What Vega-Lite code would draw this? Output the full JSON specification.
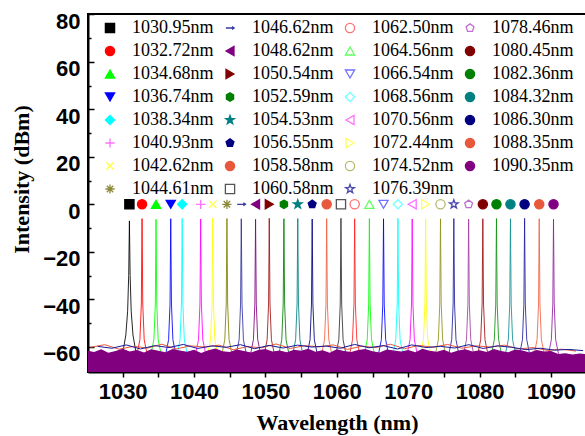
{
  "$schema": "https://vega.github.io/schema/vega-lite/v6.json",
  "width": 498,
  "height": 358,
  "autosize": {"type": "none"},
  "padding": {"left": 88, "top": 14, "right": 0, "bottom": 64},
  "background": "white",
  "config": {
    "view": {"stroke": "black", "strokeWidth": 2},
    "axis": {"grid": false, "domainColor": "black", "domainWidth": 2, "tickColor": "black", "tickWidth": 1.5, "labelColor": "black", "titleColor": "black"}
  },
  "datasets": {
    "series": [
      {"s": "1030.95nm", "wl": 1030.95}, {"s": "1032.72nm", "wl": 1032.72}, {"s": "1034.68nm", "wl": 1034.68}, {"s": "1036.74nm", "wl": 1036.74},
      {"s": "1038.34nm", "wl": 1038.34}, {"s": "1040.93nm", "wl": 1040.93}, {"s": "1042.62nm", "wl": 1042.62}, {"s": "1044.61nm", "wl": 1044.61},
      {"s": "1046.62nm", "wl": 1046.62}, {"s": "1048.62nm", "wl": 1048.62}, {"s": "1050.54nm", "wl": 1050.54}, {"s": "1052.59nm", "wl": 1052.59},
      {"s": "1054.53nm", "wl": 1054.53}, {"s": "1056.55nm", "wl": 1056.55}, {"s": "1058.58nm", "wl": 1058.58}, {"s": "1060.58nm", "wl": 1060.58},
      {"s": "1062.50nm", "wl": 1062.50}, {"s": "1064.56nm", "wl": 1064.56}, {"s": "1066.54nm", "wl": 1066.54}, {"s": "1068.56nm", "wl": 1068.56},
      {"s": "1070.56nm", "wl": 1070.56}, {"s": "1072.44nm", "wl": 1072.44}, {"s": "1074.52nm", "wl": 1074.52}, {"s": "1076.39nm", "wl": 1076.39},
      {"s": "1078.46nm", "wl": 1078.46}, {"s": "1080.45nm", "wl": 1080.45}, {"s": "1082.36nm", "wl": 1082.36}, {"s": "1084.32nm", "wl": 1084.32},
      {"s": "1086.30nm", "wl": 1086.30}, {"s": "1088.35nm", "wl": 1088.35}, {"s": "1090.35nm", "wl": 1090.35}
    ],
    "peaks": [
      {"s": "1030.95nm", "x": 1030.05, "y": -62}, {"s": "1030.95nm", "x": 1030.45, "y": -55}, {"s": "1030.95nm", "x": 1030.70, "y": -45}, {"s": "1030.95nm", "x": 1030.85, "y": -30}, {"s": "1030.95nm", "x": 1030.95, "y": -7}, {"s": "1030.95nm", "x": 1031.05, "y": -30}, {"s": "1030.95nm", "x": 1031.20, "y": -45}, {"s": "1030.95nm", "x": 1031.45, "y": -55}, {"s": "1030.95nm", "x": 1031.85, "y": -62},
      {"s": "1032.72nm", "x": 1032.02, "y": -63}, {"s": "1032.72nm", "x": 1032.42, "y": -57}, {"s": "1032.72nm", "x": 1032.62, "y": -42}, {"s": "1032.72nm", "x": 1032.72, "y": -6.0}, {"s": "1032.72nm", "x": 1032.82, "y": -42}, {"s": "1032.72nm", "x": 1033.02, "y": -57}, {"s": "1032.72nm", "x": 1033.42, "y": -63},
      {"s": "1034.68nm", "x": 1033.98, "y": -63}, {"s": "1034.68nm", "x": 1034.38, "y": -57}, {"s": "1034.68nm", "x": 1034.58, "y": -42}, {"s": "1034.68nm", "x": 1034.68, "y": -6.3}, {"s": "1034.68nm", "x": 1034.78, "y": -42}, {"s": "1034.68nm", "x": 1034.98, "y": -57}, {"s": "1034.68nm", "x": 1035.38, "y": -63},
      {"s": "1036.74nm", "x": 1036.04, "y": -63}, {"s": "1036.74nm", "x": 1036.44, "y": -57}, {"s": "1036.74nm", "x": 1036.64, "y": -42}, {"s": "1036.74nm", "x": 1036.74, "y": -6.1}, {"s": "1036.74nm", "x": 1036.84, "y": -42}, {"s": "1036.74nm", "x": 1037.04, "y": -57}, {"s": "1036.74nm", "x": 1037.44, "y": -63},
      {"s": "1038.34nm", "x": 1037.64, "y": -63}, {"s": "1038.34nm", "x": 1038.04, "y": -57}, {"s": "1038.34nm", "x": 1038.24, "y": -42}, {"s": "1038.34nm", "x": 1038.34, "y": -5.9}, {"s": "1038.34nm", "x": 1038.44, "y": -42}, {"s": "1038.34nm", "x": 1038.64, "y": -57}, {"s": "1038.34nm", "x": 1039.04, "y": -63},
      {"s": "1040.93nm", "x": 1040.23, "y": -63}, {"s": "1040.93nm", "x": 1040.63, "y": -57}, {"s": "1040.93nm", "x": 1040.83, "y": -42}, {"s": "1040.93nm", "x": 1040.93, "y": -6.2}, {"s": "1040.93nm", "x": 1041.03, "y": -42}, {"s": "1040.93nm", "x": 1041.23, "y": -57}, {"s": "1040.93nm", "x": 1041.63, "y": -63},
      {"s": "1042.62nm", "x": 1041.92, "y": -63}, {"s": "1042.62nm", "x": 1042.32, "y": -57}, {"s": "1042.62nm", "x": 1042.52, "y": -42}, {"s": "1042.62nm", "x": 1042.62, "y": -5.8}, {"s": "1042.62nm", "x": 1042.72, "y": -42}, {"s": "1042.62nm", "x": 1042.92, "y": -57}, {"s": "1042.62nm", "x": 1043.32, "y": -63},
      {"s": "1044.61nm", "x": 1043.91, "y": -63}, {"s": "1044.61nm", "x": 1044.31, "y": -57}, {"s": "1044.61nm", "x": 1044.51, "y": -42}, {"s": "1044.61nm", "x": 1044.61, "y": -6.0}, {"s": "1044.61nm", "x": 1044.71, "y": -42}, {"s": "1044.61nm", "x": 1044.91, "y": -57}, {"s": "1044.61nm", "x": 1045.31, "y": -63},
      {"s": "1046.62nm", "x": 1045.92, "y": -63}, {"s": "1046.62nm", "x": 1046.32, "y": -57}, {"s": "1046.62nm", "x": 1046.52, "y": -42}, {"s": "1046.62nm", "x": 1046.62, "y": -6.1}, {"s": "1046.62nm", "x": 1046.72, "y": -42}, {"s": "1046.62nm", "x": 1046.92, "y": -57}, {"s": "1046.62nm", "x": 1047.32, "y": -63},
      {"s": "1048.62nm", "x": 1047.92, "y": -63}, {"s": "1048.62nm", "x": 1048.32, "y": -57}, {"s": "1048.62nm", "x": 1048.52, "y": -42}, {"s": "1048.62nm", "x": 1048.62, "y": -6.3}, {"s": "1048.62nm", "x": 1048.72, "y": -42}, {"s": "1048.62nm", "x": 1048.92, "y": -57}, {"s": "1048.62nm", "x": 1049.32, "y": -63},
      {"s": "1050.54nm", "x": 1049.84, "y": -63}, {"s": "1050.54nm", "x": 1050.24, "y": -57}, {"s": "1050.54nm", "x": 1050.44, "y": -42}, {"s": "1050.54nm", "x": 1050.54, "y": -5.9}, {"s": "1050.54nm", "x": 1050.64, "y": -42}, {"s": "1050.54nm", "x": 1050.84, "y": -57}, {"s": "1050.54nm", "x": 1051.24, "y": -63},
      {"s": "1052.59nm", "x": 1051.89, "y": -63}, {"s": "1052.59nm", "x": 1052.29, "y": -57}, {"s": "1052.59nm", "x": 1052.49, "y": -42}, {"s": "1052.59nm", "x": 1052.59, "y": -6.1}, {"s": "1052.59nm", "x": 1052.69, "y": -42}, {"s": "1052.59nm", "x": 1052.89, "y": -57}, {"s": "1052.59nm", "x": 1053.29, "y": -63},
      {"s": "1054.53nm", "x": 1053.83, "y": -63}, {"s": "1054.53nm", "x": 1054.23, "y": -57}, {"s": "1054.53nm", "x": 1054.43, "y": -42}, {"s": "1054.53nm", "x": 1054.53, "y": -6.0}, {"s": "1054.53nm", "x": 1054.63, "y": -42}, {"s": "1054.53nm", "x": 1054.83, "y": -57}, {"s": "1054.53nm", "x": 1055.23, "y": -63},
      {"s": "1056.55nm", "x": 1055.85, "y": -63}, {"s": "1056.55nm", "x": 1056.25, "y": -57}, {"s": "1056.55nm", "x": 1056.45, "y": -42}, {"s": "1056.55nm", "x": 1056.55, "y": -6.2}, {"s": "1056.55nm", "x": 1056.65, "y": -42}, {"s": "1056.55nm", "x": 1056.85, "y": -57}, {"s": "1056.55nm", "x": 1057.25, "y": -63},
      {"s": "1058.58nm", "x": 1057.88, "y": -63}, {"s": "1058.58nm", "x": 1058.28, "y": -57}, {"s": "1058.58nm", "x": 1058.48, "y": -42}, {"s": "1058.58nm", "x": 1058.58, "y": -6.0}, {"s": "1058.58nm", "x": 1058.68, "y": -42}, {"s": "1058.58nm", "x": 1058.88, "y": -57}, {"s": "1058.58nm", "x": 1059.28, "y": -63},
      {"s": "1060.58nm", "x": 1059.88, "y": -63}, {"s": "1060.58nm", "x": 1060.28, "y": -57}, {"s": "1060.58nm", "x": 1060.48, "y": -42}, {"s": "1060.58nm", "x": 1060.58, "y": -5.9}, {"s": "1060.58nm", "x": 1060.68, "y": -42}, {"s": "1060.58nm", "x": 1060.88, "y": -57}, {"s": "1060.58nm", "x": 1061.28, "y": -63},
      {"s": "1062.50nm", "x": 1061.80, "y": -63}, {"s": "1062.50nm", "x": 1062.20, "y": -57}, {"s": "1062.50nm", "x": 1062.40, "y": -42}, {"s": "1062.50nm", "x": 1062.50, "y": -6.1}, {"s": "1062.50nm", "x": 1062.60, "y": -42}, {"s": "1062.50nm", "x": 1062.80, "y": -57}, {"s": "1062.50nm", "x": 1063.20, "y": -63},
      {"s": "1064.56nm", "x": 1063.86, "y": -63}, {"s": "1064.56nm", "x": 1064.26, "y": -57}, {"s": "1064.56nm", "x": 1064.46, "y": -42}, {"s": "1064.56nm", "x": 1064.56, "y": -6.0}, {"s": "1064.56nm", "x": 1064.66, "y": -42}, {"s": "1064.56nm", "x": 1064.86, "y": -57}, {"s": "1064.56nm", "x": 1065.26, "y": -63},
      {"s": "1066.54nm", "x": 1065.84, "y": -63}, {"s": "1066.54nm", "x": 1066.24, "y": -57}, {"s": "1066.54nm", "x": 1066.44, "y": -42}, {"s": "1066.54nm", "x": 1066.54, "y": -6.1}, {"s": "1066.54nm", "x": 1066.64, "y": -42}, {"s": "1066.54nm", "x": 1066.84, "y": -57}, {"s": "1066.54nm", "x": 1067.24, "y": -63},
      {"s": "1068.56nm", "x": 1067.86, "y": -63}, {"s": "1068.56nm", "x": 1068.26, "y": -57}, {"s": "1068.56nm", "x": 1068.46, "y": -42}, {"s": "1068.56nm", "x": 1068.56, "y": -5.9}, {"s": "1068.56nm", "x": 1068.66, "y": -42}, {"s": "1068.56nm", "x": 1068.86, "y": -57}, {"s": "1068.56nm", "x": 1069.26, "y": -63},
      {"s": "1070.56nm", "x": 1069.86, "y": -63}, {"s": "1070.56nm", "x": 1070.26, "y": -57}, {"s": "1070.56nm", "x": 1070.46, "y": -42}, {"s": "1070.56nm", "x": 1070.56, "y": -6.2}, {"s": "1070.56nm", "x": 1070.66, "y": -42}, {"s": "1070.56nm", "x": 1070.86, "y": -57}, {"s": "1070.56nm", "x": 1071.26, "y": -63},
      {"s": "1072.44nm", "x": 1071.74, "y": -63}, {"s": "1072.44nm", "x": 1072.14, "y": -57}, {"s": "1072.44nm", "x": 1072.34, "y": -42}, {"s": "1072.44nm", "x": 1072.44, "y": -6.0}, {"s": "1072.44nm", "x": 1072.54, "y": -42}, {"s": "1072.44nm", "x": 1072.74, "y": -57}, {"s": "1072.44nm", "x": 1073.14, "y": -63},
      {"s": "1074.52nm", "x": 1073.82, "y": -63}, {"s": "1074.52nm", "x": 1074.22, "y": -57}, {"s": "1074.52nm", "x": 1074.42, "y": -42}, {"s": "1074.52nm", "x": 1074.52, "y": -6.1}, {"s": "1074.52nm", "x": 1074.62, "y": -42}, {"s": "1074.52nm", "x": 1074.82, "y": -57}, {"s": "1074.52nm", "x": 1075.22, "y": -63},
      {"s": "1076.39nm", "x": 1075.69, "y": -63}, {"s": "1076.39nm", "x": 1076.09, "y": -57}, {"s": "1076.39nm", "x": 1076.29, "y": -42}, {"s": "1076.39nm", "x": 1076.39, "y": -6.0}, {"s": "1076.39nm", "x": 1076.49, "y": -42}, {"s": "1076.39nm", "x": 1076.69, "y": -57}, {"s": "1076.39nm", "x": 1077.09, "y": -63},
      {"s": "1078.46nm", "x": 1077.76, "y": -63}, {"s": "1078.46nm", "x": 1078.16, "y": -57}, {"s": "1078.46nm", "x": 1078.36, "y": -42}, {"s": "1078.46nm", "x": 1078.46, "y": -6.2}, {"s": "1078.46nm", "x": 1078.56, "y": -42}, {"s": "1078.46nm", "x": 1078.76, "y": -57}, {"s": "1078.46nm", "x": 1079.16, "y": -63},
      {"s": "1080.45nm", "x": 1079.75, "y": -63}, {"s": "1080.45nm", "x": 1080.15, "y": -57}, {"s": "1080.45nm", "x": 1080.35, "y": -42}, {"s": "1080.45nm", "x": 1080.45, "y": -6.1}, {"s": "1080.45nm", "x": 1080.55, "y": -42}, {"s": "1080.45nm", "x": 1080.75, "y": -57}, {"s": "1080.45nm", "x": 1081.15, "y": -63},
      {"s": "1082.36nm", "x": 1081.66, "y": -63}, {"s": "1082.36nm", "x": 1082.06, "y": -57}, {"s": "1082.36nm", "x": 1082.26, "y": -42}, {"s": "1082.36nm", "x": 1082.36, "y": -6.0}, {"s": "1082.36nm", "x": 1082.46, "y": -42}, {"s": "1082.36nm", "x": 1082.66, "y": -57}, {"s": "1082.36nm", "x": 1083.06, "y": -63},
      {"s": "1084.32nm", "x": 1083.62, "y": -63}, {"s": "1084.32nm", "x": 1084.02, "y": -57}, {"s": "1084.32nm", "x": 1084.22, "y": -42}, {"s": "1084.32nm", "x": 1084.32, "y": -6.1}, {"s": "1084.32nm", "x": 1084.42, "y": -42}, {"s": "1084.32nm", "x": 1084.62, "y": -57}, {"s": "1084.32nm", "x": 1085.02, "y": -63},
      {"s": "1086.30nm", "x": 1085.60, "y": -63}, {"s": "1086.30nm", "x": 1086.00, "y": -57}, {"s": "1086.30nm", "x": 1086.20, "y": -42}, {"s": "1086.30nm", "x": 1086.30, "y": -5.9}, {"s": "1086.30nm", "x": 1086.40, "y": -42}, {"s": "1086.30nm", "x": 1086.60, "y": -57}, {"s": "1086.30nm", "x": 1087.00, "y": -63},
      {"s": "1088.35nm", "x": 1087.65, "y": -63}, {"s": "1088.35nm", "x": 1088.05, "y": -57}, {"s": "1088.35nm", "x": 1088.25, "y": -42}, {"s": "1088.35nm", "x": 1088.35, "y": -6.1}, {"s": "1088.35nm", "x": 1088.45, "y": -42}, {"s": "1088.35nm", "x": 1088.65, "y": -57}, {"s": "1088.35nm", "x": 1089.05, "y": -63},
      {"s": "1090.35nm", "x": 1089.65, "y": -63}, {"s": "1090.35nm", "x": 1090.05, "y": -57}, {"s": "1090.35nm", "x": 1090.25, "y": -42}, {"s": "1090.35nm", "x": 1090.35, "y": -6.3}, {"s": "1090.35nm", "x": 1090.45, "y": -42}, {"s": "1090.35nm", "x": 1090.65, "y": -57}, {"s": "1090.35nm", "x": 1091.05, "y": -63}
    ],
    "band": [
      {"x": 1025, "y": -61.5}, {"x": 1026, "y": -62.2}, {"x": 1027, "y": -61.0}, {"x": 1028, "y": -62.5}, {"x": 1029, "y": -61.8}, {"x": 1030, "y": -60.8},
      {"x": 1031, "y": -62.0}, {"x": 1032, "y": -61.3}, {"x": 1033, "y": -62.4}, {"x": 1034, "y": -61.0}, {"x": 1035, "y": -61.7}, {"x": 1036, "y": -62.3},
      {"x": 1037, "y": -60.9}, {"x": 1038, "y": -61.6}, {"x": 1039, "y": -62.1}, {"x": 1040, "y": -61.2}, {"x": 1041, "y": -62.6}, {"x": 1042, "y": -61.4},
      {"x": 1043, "y": -60.7}, {"x": 1044, "y": -61.9}, {"x": 1045, "y": -62.2}, {"x": 1046, "y": -61.1}, {"x": 1047, "y": -61.8}, {"x": 1048, "y": -62.4},
      {"x": 1049, "y": -61.3}, {"x": 1050, "y": -60.9}, {"x": 1051, "y": -62.0}, {"x": 1052, "y": -61.5}, {"x": 1053, "y": -62.3}, {"x": 1054, "y": -61.2},
      {"x": 1055, "y": -61.7}, {"x": 1056, "y": -60.8}, {"x": 1057, "y": -62.1}, {"x": 1058, "y": -61.4}, {"x": 1059, "y": -62.5}, {"x": 1060, "y": -61.0},
      {"x": 1061, "y": -61.8}, {"x": 1062, "y": -62.2}, {"x": 1063, "y": -61.3}, {"x": 1064, "y": -60.9}, {"x": 1065, "y": -61.9}, {"x": 1066, "y": -62.4},
      {"x": 1067, "y": -61.1}, {"x": 1068, "y": -61.6}, {"x": 1069, "y": -62.0}, {"x": 1070, "y": -61.3}, {"x": 1071, "y": -62.3}, {"x": 1072, "y": -60.8},
      {"x": 1073, "y": -61.7}, {"x": 1074, "y": -62.1}, {"x": 1075, "y": -61.2}, {"x": 1076, "y": -62.5}, {"x": 1077, "y": -61.5}, {"x": 1078, "y": -61.0},
      {"x": 1079, "y": -62.0}, {"x": 1080, "y": -61.4}, {"x": 1081, "y": -62.2}, {"x": 1082, "y": -60.9}, {"x": 1083, "y": -61.8}, {"x": 1084, "y": -62.3},
      {"x": 1085, "y": -61.1}, {"x": 1086, "y": -61.6}, {"x": 1087, "y": -62.4}, {"x": 1088, "y": -61.3}, {"x": 1089, "y": -62.0}, {"x": 1090, "y": -61.8},
      {"x": 1091, "y": -63.0}, {"x": 1092, "y": -62.7}, {"x": 1093, "y": -63.2}, {"x": 1094, "y": -62.8}, {"x": 1095, "y": -63.1}
    ],
    "noiseA": [
      {"x": 1025.5, "y": -60.2}, {"x": 1027.5, "y": -59.1}, {"x": 1029.5, "y": -61.0}, {"x": 1031.5, "y": -59.8}, {"x": 1033.5, "y": -60.5}, {"x": 1035.5, "y": -58.9},
      {"x": 1037.5, "y": -60.9}, {"x": 1039.5, "y": -59.6}, {"x": 1041.5, "y": -60.1}, {"x": 1043.5, "y": -59.3}, {"x": 1045.5, "y": -61.2}, {"x": 1047.5, "y": -59.9},
      {"x": 1049.5, "y": -60.4}, {"x": 1051.5, "y": -58.8}, {"x": 1053.5, "y": -60.7}, {"x": 1055.5, "y": -59.5}, {"x": 1057.5, "y": -60.0}, {"x": 1059.5, "y": -59.2},
      {"x": 1061.5, "y": -61.1}, {"x": 1063.5, "y": -59.7}, {"x": 1065.5, "y": -60.3}, {"x": 1067.5, "y": -58.9}, {"x": 1069.5, "y": -60.8}, {"x": 1071.5, "y": -59.4},
      {"x": 1073.5, "y": -60.2}, {"x": 1075.5, "y": -59.0}, {"x": 1077.5, "y": -60.6}, {"x": 1079.5, "y": -59.6}, {"x": 1081.5, "y": -60.1}, {"x": 1083.5, "y": -59.3},
      {"x": 1085.5, "y": -60.9}, {"x": 1087.5, "y": -60.3}, {"x": 1089.5, "y": -61.5}, {"x": 1091.5, "y": -61.0}, {"x": 1093.5, "y": -61.8}
    ],
    "noiseB": [
      {"x": 1026.5, "y": -59.8}, {"x": 1028.5, "y": -60.6}, {"x": 1030.5, "y": -59.2}, {"x": 1032.5, "y": -60.9}, {"x": 1034.5, "y": -59.5}, {"x": 1036.5, "y": -60.3},
      {"x": 1038.5, "y": -59.0}, {"x": 1040.5, "y": -60.7}, {"x": 1042.5, "y": -59.6}, {"x": 1044.5, "y": -60.2}, {"x": 1046.5, "y": -59.1}, {"x": 1048.5, "y": -60.8},
      {"x": 1050.5, "y": -59.4}, {"x": 1052.5, "y": -60.5}, {"x": 1054.5, "y": -59.3}, {"x": 1056.5, "y": -60.1}, {"x": 1058.5, "y": -59.7}, {"x": 1060.5, "y": -60.6},
      {"x": 1062.5, "y": -59.0}, {"x": 1064.5, "y": -60.4}, {"x": 1066.5, "y": -59.5}, {"x": 1068.5, "y": -60.9}, {"x": 1070.5, "y": -59.2}, {"x": 1072.5, "y": -60.3},
      {"x": 1074.5, "y": -59.8}, {"x": 1076.5, "y": -60.5}, {"x": 1078.5, "y": -59.1}, {"x": 1080.5, "y": -60.7}, {"x": 1082.5, "y": -59.6}, {"x": 1084.5, "y": -60.2},
      {"x": 1086.5, "y": -61.2}, {"x": 1088.5, "y": -60.6}, {"x": 1090.5, "y": -61.4}, {"x": 1092.5, "y": -61.1}, {"x": 1094.5, "y": -61.6}
    ]
  },
  "resolve": {"scale": {"x": "shared", "y": "shared"}, "axis": {"x": "independent", "y": "independent"}},
  "layer": [
    {
      "data": {"name": "peaks"},
      "mark": {"type": "line", "strokeWidth": 1, "opacity": 0.85, "clip": true},
      "encoding": {
        "x": {"field": "x", "type": "quantitative", "scale": {"domain": [1025.15, 1094.9], "nice": false, "zero": false},
          "axis": {"orient": "bottom", "values": [1030, 1040, 1050, 1060, 1070, 1080, 1090], "tickSize": 5, "labelPadding": 21, "labelBaseline": "alphabetic",
            "labelFont": "Liberation Sans", "labelFontWeight": "bold", "labelFontSize": 22, "format": "d",
            "title": "Wavelength (nm)", "titleFont": "Liberation Serif", "titleFontWeight": "bold", "titleFontSize": 22, "titleY": 57, "titleBaseline": "alphabetic"}},
        "y": {"field": "y", "type": "quantitative", "scale": {"domain": [-70.6, 80.1], "nice": false, "zero": false},
          "axis": {"orient": "left", "values": [-60, -40, -20, 0, 20, 40, 60, 80], "tickSize": -6, "labelPadding": 14, "labelOffset": 7,
            "labelFont": "Liberation Sans", "labelFontWeight": "bold", "labelFontSize": 22,
            "title": "Intensity (dBm)", "titleFont": "Liberation Serif", "titleFontWeight": "bold", "titleFontSize": 22, "titleAngle": -90,
            "titleX": -60, "titleY": 165, "titleAlign": "center", "titleBaseline": "alphabetic"}},
        "color": {"field": "s", "type": "nominal", "legend": null,
          "scale": {
            "domain": ["1090.35nm","1088.35nm","1086.30nm","1084.32nm","1082.36nm","1080.45nm","1078.46nm","1076.39nm","1074.52nm","1072.44nm","1070.56nm","1068.56nm","1066.54nm","1064.56nm","1062.50nm","1060.58nm","1058.58nm","1056.55nm","1054.53nm","1052.59nm","1050.54nm","1048.62nm","1046.62nm","1044.61nm","1042.62nm","1040.93nm","1038.34nm","1036.74nm","1034.68nm","1032.72nm","1030.95nm"],
            "range": ["#9020a0","#f06040","#2020a0","#109090","#109010","#a01010","#a040a0","#2020a0","#909020","#ffff00","#ff00ff","#00ffff","#0000ff","#00ff00","#ff2020","#303030","#f06040","#000080","#008080","#008000","#a01010","#800080","#3030a0","#808000","#ffff00","#ff00ff","#00ffff","#0000ff","#00ff00","#ff0000","#000000"]}}
      }
    },
    {
      "data": {"name": "noiseA"},
      "mark": {"type": "line", "color": "#e8583c", "strokeWidth": 1, "clip": true},
      "encoding": {
        "x": {"field": "x", "type": "quantitative", "scale": {"domain": [1025.15, 1094.9], "nice": false, "zero": false}, "axis": null},
        "y": {"field": "y", "type": "quantitative", "scale": {"domain": [-70.6, 80.1], "nice": false, "zero": false}, "axis": null}
      }
    },
    {
      "data": {"name": "noiseB"},
      "mark": {"type": "line", "color": "#1a1a9a", "strokeWidth": 1, "clip": true},
      "encoding": {
        "x": {"field": "x", "type": "quantitative", "scale": {"domain": [1025.15, 1094.9], "nice": false, "zero": false}, "axis": null},
        "y": {"field": "y", "type": "quantitative", "scale": {"domain": [-70.6, 80.1], "nice": false, "zero": false}, "axis": null}
      }
    },
    {
      "data": {"name": "band"},
      "mark": {"type": "area", "color": "#800080", "opacity": 1, "clip": true},
      "encoding": {
        "x": {"field": "x", "type": "quantitative", "scale": {"domain": [1025.15, 1094.9], "nice": false, "zero": false}, "axis": null},
        "y": {"field": "y", "type": "quantitative", "scale": {"domain": [-70.6, 80.1], "nice": false, "zero": false}, "axis": null},
        "y2": {"datum": -70.6}
      }
    },
    {
      "data": {"name": "series"},
      "mark": {"type": "point", "size": 85, "strokeWidth": 1.3, "opacity": 1},
      "encoding": {
        "x": {"field": "wl", "type": "quantitative", "scale": {"domain": [1025.15, 1094.9], "nice": false, "zero": false},
          "axis": {"orient": "bottom", "values": [1035, 1045, 1055, 1065, 1075, 1085], "tickSize": 5, "labels": false, "domain": false, "title": null}},
        "y": {"datum": 0, "type": "quantitative", "scale": {"domain": [-70.6, 80.1], "nice": false, "zero": false},
          "axis": {"orient": "left", "values": [-70, -50, -30, -10, 10, 30, 50, 70], "tickSize": -3, "labels": false, "domain": false, "title": null}},
        "shape": {"field": "s", "type": "nominal",
          "scale": {
            "domain": ["1030.95nm","1032.72nm","1034.68nm","1036.74nm","1038.34nm","1040.93nm","1042.62nm","1044.61nm","1046.62nm","1048.62nm","1050.54nm","1052.59nm","1054.53nm","1056.55nm","1058.58nm","1060.58nm","1062.50nm","1064.56nm","1066.54nm","1068.56nm","1070.56nm","1072.44nm","1074.52nm","1076.39nm","1078.46nm","1080.45nm","1082.36nm","1084.32nm","1086.30nm","1088.35nm","1090.35nm"],
            "range": ["square","circle","triangle-up","triangle-down","diamond",
              "M-1,0L1,0M0,-1L0,1",
              "M-0.8,-0.8L0.8,0.8M-0.8,0.8L0.8,-0.8",
              "M-1,0L1,0M0,-1L0,1M-0.7,-0.7L0.7,0.7M-0.7,0.7L0.7,-0.7",
              "M-0.9,0L0.9,0M0.45,-0.3L0.9,0L0.45,0.3",
              "triangle-left","triangle-right",
              "M0,-0.9L0.78,-0.45L0.78,0.45L0,0.9L-0.78,0.45L-0.78,-0.45Z",
              "M0,-1L0.235,-0.324L0.951,-0.309L0.380,0.124L0.588,0.809L0,0.4L-0.588,0.809L-0.380,0.124L-0.951,-0.309L-0.235,-0.324Z",
              "M0,-0.9L0.856,-0.278L0.529,0.728L-0.529,0.728L-0.856,-0.278Z",
              "circle","square","circle","triangle-up","triangle-down","diamond","triangle-left","triangle-right","circle",
              "M0,-1L0.235,-0.324L0.951,-0.309L0.380,0.124L0.588,0.809L0,0.4L-0.588,0.809L-0.380,0.124L-0.951,-0.309L-0.235,-0.324Z",
              "M0,-0.9L0.856,-0.278L0.529,0.728L-0.529,0.728L-0.856,-0.278Z",
              "circle","circle","circle","circle","circle","circle"]},
          "legend": {"orient": "none", "legendX": 13, "legendY": 5, "columns": 4, "title": null, "padding": 0, "gridAlign": "each",
            "labelFont": "Liberation Serif", "labelFontSize": 18, "labelColor": "black", "labelLimit": 200, "labelOffset": 13,
            "symbolSize": 85, "symbolStrokeWidth": 1.3, "rowPadding": 5, "columnPadding": 7, "symbolLimit": 40}},
        "fill": {"field": "s", "type": "nominal",
          "scale": {
            "domain": ["1030.95nm","1032.72nm","1034.68nm","1036.74nm","1038.34nm","1040.93nm","1042.62nm","1044.61nm","1046.62nm","1048.62nm","1050.54nm","1052.59nm","1054.53nm","1056.55nm","1058.58nm","1060.58nm","1062.50nm","1064.56nm","1066.54nm","1068.56nm","1070.56nm","1072.44nm","1074.52nm","1076.39nm","1078.46nm","1080.45nm","1082.36nm","1084.32nm","1086.30nm","1088.35nm","1090.35nm"],
            "range": ["#000000","#ff0000","#00ff00","#0000ff","#00ffff","transparent","transparent","transparent","transparent","#800080","#800000","#008000","#008080","#000080","#e8583c",
              "transparent","transparent","transparent","transparent","transparent","transparent","transparent","transparent","transparent","transparent",
              "#800000","#008000","#008080","#000080","#e8583c","#800080"]},
          "legend": {"orient": "none", "legendX": 13, "legendY": 5, "columns": 4, "title": null, "padding": 0, "gridAlign": "each",
            "labelFont": "Liberation Serif", "labelFontSize": 18, "labelColor": "black", "labelLimit": 200, "labelOffset": 13,
            "symbolSize": 85, "symbolStrokeWidth": 1.3, "rowPadding": 5, "columnPadding": 7, "symbolLimit": 40}},
        "stroke": {"field": "s", "type": "nominal",
          "scale": {
            "domain": ["1030.95nm","1032.72nm","1034.68nm","1036.74nm","1038.34nm","1040.93nm","1042.62nm","1044.61nm","1046.62nm","1048.62nm","1050.54nm","1052.59nm","1054.53nm","1056.55nm","1058.58nm","1060.58nm","1062.50nm","1064.56nm","1066.54nm","1068.56nm","1070.56nm","1072.44nm","1074.52nm","1076.39nm","1078.46nm","1080.45nm","1082.36nm","1084.32nm","1086.30nm","1088.35nm","1090.35nm"],
            "range": ["#000000","#ff0000","#00ff00","#0000ff","#00ffff","#ff70ff","#ffff40","#8a8a3a","#3a3aa8","#800080","#800000","#008000","#008080","#000080","#e8583c",
              "#555555","#ff7070","#60ff60","#7070ff","#70ffff","#ff70ff","#ffff60","#b8b870","#4a4ab0","#c070d0",
              "#800000","#008000","#008080","#000080","#e8583c","#800080"]},
          "legend": {"orient": "none", "legendX": 13, "legendY": 5, "columns": 4, "title": null, "padding": 0, "gridAlign": "each",
            "labelFont": "Liberation Serif", "labelFontSize": 18, "labelColor": "black", "labelLimit": 200, "labelOffset": 13,
            "symbolSize": 85, "symbolStrokeWidth": 1.3, "rowPadding": 5, "columnPadding": 7, "symbolLimit": 40}}
      }
    }
  ]
}
